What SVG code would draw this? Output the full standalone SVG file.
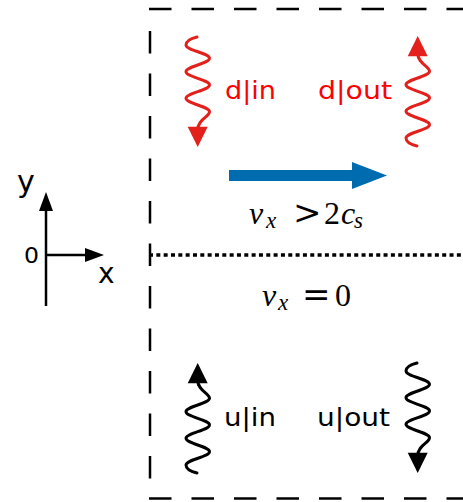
<svg xmlns="http://www.w3.org/2000/svg" xmlns:xlink="http://www.w3.org/1999/xlink" width="463" height="502" viewBox="0 0 463 502">
  <style>
    .frame { fill: none; stroke: #000; stroke-width: 2.5; stroke-dasharray: 22.5 20; }
    .axis { fill: none; stroke: #000; stroke-width: 2.5; }
    .lbl { font-family: "DejaVu Sans", sans-serif; font-size: 24px; }
    .red { fill: #ff0000; }
    .math { font-family: "Liberation Serif", serif; font-size: 32px; fill: #000; }
    .it { font-style: italic; }
    .sub { font-style: italic; font-size: 23px; }
    .op { font-family: "DejaVu Serif", serif; font-size: 34px; }
  </style>
  <defs>
    <!-- wavy arrow, pointing down, tip at (197.7,147) -->
    <g id="wave">
      <path d="M197,37 C193,38 186,40 186,45 C186,50.5 209.5,53 209.5,58.3 C209.5,63.6 186,66.4 186,71.7 C186,77 209.5,79.7 209.5,85 C209.5,90.3 186,93 186,98.3 C186,103.6 209.5,106.4 209.5,111.7 C209.5,117 197.7,119 197.7,130" fill="none" stroke="currentColor" stroke-width="3" stroke-linecap="round"/>
      <polygon points="197.7,147 187.7,126.7 207.7,126.7" fill="currentColor"/>
    </g>
  </defs>

  <!-- dashed frame -->
  <g id="frame">
    <line class="frame" x1="149" y1="9" x2="463" y2="9"/>
    <line class="frame" x1="150" y1="31" x2="150" y2="498"/>
    <line class="frame" x1="149" y1="498.5" x2="463" y2="498.5"/>
  </g>

  <!-- coordinate axes -->
  <g id="axes">
    <line class="axis" x1="46" y1="306" x2="46" y2="205"/>
    <polygon points="46,192 39,211 53,211" fill="#000"/>
    <line class="axis" x1="46" y1="255" x2="90" y2="255"/>
    <polygon points="104,255 85,248 85,262" fill="#000"/>
    <text class="lbl" x="17" y="192" style="font-size:30px">y</text>
    <text class="lbl" x="24" y="263" style="font-size:21px" textLength="15" lengthAdjust="spacingAndGlyphs">0</text>
    <text class="lbl" x="98" y="283" style="font-size:28px">x</text>
  </g>

  <g id="connectors">
    <!-- flow arrow -->
    <polygon points="229,170 352,170 352,162 387,175.5 352,189 352,181 229,181" fill="#006cb0"/>
    <!-- interface -->
    <line x1="149" y1="255" x2="463" y2="255" stroke="#000" stroke-width="3.5" stroke-dasharray="4 3.33"/>
  </g>

  <!-- wavy arrows -->
  <g id="d-in" style="color:#e3201b"><use xlink:href="#wave"/></g>
  <g id="d-out" style="color:#e3201b"><use xlink:href="#wave" transform="translate(220,183) scale(1,-1)"/></g>
  <g id="u-in" style="color:#000"><use xlink:href="#wave" transform="translate(0,510) scale(1,-1)"/></g>
  <g id="u-out" style="color:#000"><use xlink:href="#wave" transform="translate(220,326)"/></g>

  <!-- labels -->
  <text class="lbl red" x="225" y="99" textLength="51" lengthAdjust="spacingAndGlyphs">d|in</text>
  <text class="lbl red" x="318" y="99" textLength="74" lengthAdjust="spacingAndGlyphs">d|out</text>
  <text class="lbl" x="224" y="426" textLength="52" lengthAdjust="spacingAndGlyphs">u|in</text>
  <text class="lbl" x="317" y="426" textLength="73" lengthAdjust="spacingAndGlyphs">u|out</text>

  <!-- velocity conditions -->
  <text class="math" y="223.5"><tspan class="it" x="249">v</tspan><tspan class="sub" x="266" dy="4">x</tspan><tspan class="op" x="293" dy="-4">&gt;</tspan><tspan x="324">2</tspan><tspan class="it" x="341">c</tspan><tspan class="sub" x="354" dy="4">s</tspan></text>
  <text class="math" y="305.5"><tspan class="it" x="262">v</tspan><tspan class="sub" x="278" dy="4">x</tspan><tspan class="op" x="302" dy="-4">=</tspan><tspan x="335">0</tspan></text>
</svg>
